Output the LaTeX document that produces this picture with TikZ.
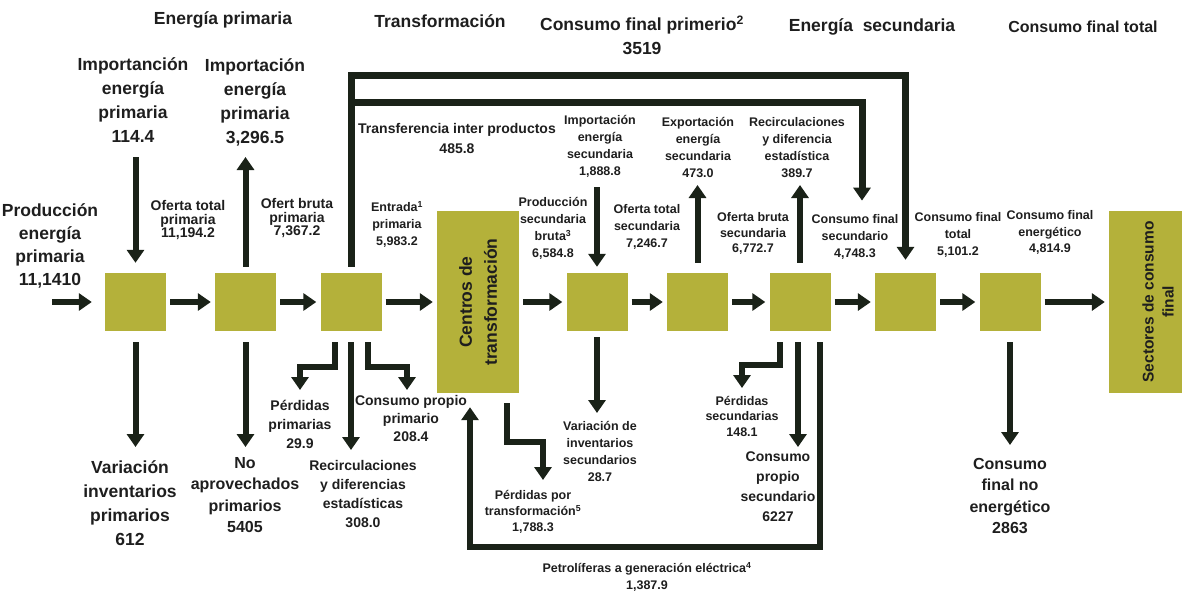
\documentclass[tikz,border=0pt]{standalone}
\usepackage{fontspec}
\setmainfont{Liberation Sans}
\usepackage{tikz}
\usetikzlibrary{arrows.meta, positioning}
\usepackage{xcolor}
\definecolor{boxolive}{RGB}{180,177,58}
\definecolor{arrowdark}{RGB}{26,34,24}
\definecolor{textdark}{RGB}{30,30,30}
\tikzset{%
	flow box/.style={
		fill=boxolive,
		draw=none,
		minimum width=61pt,
		minimum height=58pt,
		inner sep=0pt
	},
	flow arrow/.style={
		draw=arrowdark,
		line width=6pt,
		-{Triangle[length=13pt,width=17pt]}
	},
	head label/.style={
		text=textdark,
		align=center,
		inner sep=0pt,
		font=\fontsize{17.5}{22}\selectfont\bfseries
	},
	big label/.style={head label, font=\fontsize{17.5}{24}\selectfont\bfseries},
	mid label/.style={head label, font=\fontsize{16}{21.5}\selectfont\bfseries},
	med label/.style={head label, font=\fontsize{14}{19}\selectfont\bfseries},
	small label/.style={head label, font=\fontsize{12.5}{17}\selectfont\bfseries},
}

\begin{document}
\begin{tikzpicture}[x=1pt, y=1pt]
			\useasboundingbox (0,0) rectangle (1182,-590);
			
			% Boxes of the chain
			\foreach \name/\xpos in {b1/135.5, b2/245.5, b3/351, b4/597, b5/697.5, b6/800, b7/905.5, b8/1010} {
				\node[flow box] (\name) at (\xpos,-302) {};
			}
			\node[flow box, minimum width=82pt, minimum height=182pt] (ctr) at (478,-302) {};
			\node[flow box, minimum width=78pt, minimum height=182pt] (fin) at (1148,-302) {};
			\node[head label, font=\fontsize{17.5}{25}\selectfont\bfseries, rotate=90] (ctrText) at (478,-302) {Centros de\\transformación};
			\node[head label, font=\fontsize{15.5}{20}\selectfont\bfseries, rotate=90] (finText) at (1158,-302) {Sectores de consumo\\final};
			
			% Headers
			\node[head label] (hPrim) at (223,-20) {Energía primaria};
			\node[head label] (hTrans) at (440,-21) {Transformación};
			\node[big label] (hCons) at (642,-35) {Consumo final primerio\textsuperscript{2}\\3519};
			\node[head label] (hSec) at (872,-27) {Energía\ \ secundaria};
			\node[head label, font=\fontsize{16}{20}\selectfont\bfseries] (hTot) at (1083,-27) {Consumo final total};
			
			% Labels above the chain
			\node[big label, anchor=south] (impPrim) at (133,-143) {Importanción\\energía\\primaria\\114.4};
			\node[big label, anchor=south] (impPrimB) at (255,-146) {Importación\\energía\\primaria\\3,296.5};
			\node[big label, anchor=south, font=\fontsize{17.5}{23}\selectfont\bfseries] (prod) at (50,-288) {Producción\\energía\\primaria\\11,1410};
			\node[med label, anchor=south, font=\fontsize{14}{13.5}\selectfont\bfseries] (ofTotPrim) at (188,-240) {Oferta total\\primaria\\11,194.2};
			\node[med label, anchor=south, font=\fontsize{14}{13.5}\selectfont\bfseries] (ofBrutPrim) at (297,-238) {Ofert bruta\\primaria\\7,367.2};
			\node[med label, font=\fontsize{14}{20}\selectfont\bfseries] (transf) at (457,-138) {Transferencia inter productos\\485.8};
			\node[small label, anchor=south] (entrada) at (397,-248) {Entrada\textsuperscript{1}\\primaria\\5,983.2};
			\node[small label, anchor=south] (prodSec) at (553,-260) {Producción\\secundaria\\bruta\textsuperscript{3}\\6,584.8};
			\node[small label, anchor=south] (impSec) at (600,-178) {Importación\\energía\\secundaria\\1,888.8};
			\node[small label, anchor=south] (expSec) at (698,-178) {Exportación\\energía\\secundaria\\473.0};
			\node[small label, anchor=south] (recSec) at (797,-178) {Recirculaciones\\y diferencia\\estadística\\389.7};
			\node[small label, anchor=south] (ofTotSec) at (647,-250) {Oferta total\\secundaria\\7,246.7};
			\node[small label, anchor=south, font=\fontsize{12.5}{15.5}\selectfont\bfseries] (ofBrutSec) at (753,-255) {Oferta bruta\\secundaria\\6,772.7};
			\node[small label, anchor=south] (consFinSec) at (855,-260) {Consumo final\\secundario\\4,748.3};
			\node[small label, anchor=south] (consFinTot) at (958,-258) {Consumo final\\total\\5,101.2};
			\node[small label, anchor=south, font=\fontsize{12.5}{16.5}\selectfont\bfseries] (consFinEn) at (1050,-255) {Consumo final\\energético\\4,814.9};
			
			% Labels below the chain
			\node[big label, anchor=north] (varInv) at (130,-460) {Variación\\inventarios\\primarios\\612};
			\node[mid label, anchor=north] (noAprov) at (245,-457) {No\\aprovechados\\primarios\\5405};
			\node[med label, anchor=north] (perdPrim) at (300,-400) {Pérdidas\\primarias\\29.9};
			\node[med label, anchor=north] (recPrim) at (363,-460) {Recirculaciones\\y diferencias\\estadísticas\\308.0};
			\node[med label, anchor=north, font=\fontsize{14}{18}\selectfont\bfseries] (consPropPrim) at (411,-395) {Consumo propio\\primario\\208.4};
			\node[small label, anchor=north, font=\fontsize{12.5}{16}\selectfont\bfseries] (perdTransf) at (533,-490) {Pérdidas por\\transformación\textsuperscript{5}\\1,788.3};
			\node[small label, anchor=north] (varInvSec) at (600,-421) {Variación de\\inventarios\\secundarios\\28.7};
			\node[small label, anchor=north, font=\fontsize{12.5}{15.5}\selectfont\bfseries] (perdSec) at (742,-396) {Pérdidas\\secundarias\\148.1};
			\node[med label, anchor=north, font=\fontsize{14}{20}\selectfont\bfseries] (consPropSec) at (778,-452) {Consumo\\propio\\secundario\\6227};
			\node[mid label, anchor=north] (consFinNo) at (1010,-458) {Consumo\\final no\\energético\\2863};
			\node[small label, anchor=north] (petrol) at (647,-562) {Petrolíferas a generación eléctrica\textsuperscript{4}\\1,387.9};
			
			% Helper points
			\coordinate (inPrim) at (52,-302);
			\coordinate (railOut) at (0,-75);
			\coordinate (railIn) at (0,-102);
			\coordinate (railLow) at (0,-547);
			\coordinate (petrolEnd) at ([xshift=-8pt]ctr.south);
			\coordinate (lossTip) at ([xshift=10pt]perdTransf.north);
			\coordinate (ownTip) at ([xshift=-4pt]consPropPrim.north);
			\coordinate (ownSecTop) at ([xshift=-2pt]b6.south);
			
			% Main chain
			\draw[flow arrow, shorten >=13pt] (inPrim) -- (b1.west);
			\foreach \a/\b in {b1/b2, b2/b3, b3/ctr, ctr/b4, b4/b5, b5/b6, b6/b7, b7/b8, b8/fin} {
				\draw[flow arrow, shorten <=4pt, shorten >=4pt] (\a) -- (\b);
			}
			
			% Arrows above the chain
			\draw[flow arrow, shorten <=14pt, shorten >=10pt] (b1.north |- impPrim.south) -- (b1.north);
			\draw[flow arrow, shorten <=6pt, shorten >=11pt] (b2.north) -- (b2.north |- impPrimB.south);
			\draw[flow arrow, shorten <=9pt, shorten >=6pt] (b4.north |- impSec.south) -- (b4.north);
			\draw[flow arrow, shorten <=10pt, shorten >=7pt] (b5.north) -- (b5.north |- expSec.south);
			\draw[flow arrow, shorten <=10pt, shorten >=7pt] (b6.north) -- (b6.north |- recSec.south);
			\draw[flow arrow, line width=7pt, shorten <=6pt, shorten >=13pt] (b3.north) |- (railOut -| b7.north) -- (b7.north);
			\draw[flow arrow, line width=7pt, shorten >=14pt] (b3.north |- railIn) -| ([xshift=7pt]consFinSec.north);
			
			% Arrows below the chain
			\draw[flow arrow, shorten <=11pt, shorten >=13pt] (b1.south) -- (b1.south |- varInv.north);
			\draw[flow arrow, shorten <=11pt, shorten >=10pt] (b2.south) -- (b2.south |- noAprov.north);
			\draw[flow arrow, shorten <=11pt, shorten >=10pt] ([xshift=-16pt]b3.south) |- ([yshift=33pt]perdPrim.north) -- (perdPrim.north);
			\draw[flow arrow, shorten <=11pt, shorten >=10pt] (b3.south) -- (b3.south |- recPrim.north);
			\draw[flow arrow, shorten <=11pt, shorten >=5pt] ([xshift=17pt]b3.south) |- ([yshift=28pt]ownTip) -- (ownTip);
			\draw[flow arrow, shorten <=10pt, shorten >=10pt] ([xshift=29pt]ctr.south) |- ([yshift=48pt]lossTip) -- (lossTip);
			\draw[flow arrow, shorten <=6pt, shorten >=8pt] (b4.south) -- (b4.south |- varInvSec.north);
			\draw[flow arrow, shorten <=11pt, shorten >=8pt] ([xshift=-20pt]b6.south) |- ([yshift=31pt]perdSec.north) -- (perdSec.north);
			\draw[flow arrow, shorten <=11pt, shorten >=5pt] (ownSecTop) -- (ownSecTop |- consPropSec.north);
			\draw[flow arrow, shorten <=11pt, shorten >=14pt] ([xshift=20pt]b6.south) |- (petrolEnd |- railLow) -- (petrolEnd);
			\draw[flow arrow, shorten <=11pt, shorten >=13pt] (b8.south) -- (b8.south |- consFinNo.north);
		\end{tikzpicture}
\end{document}
